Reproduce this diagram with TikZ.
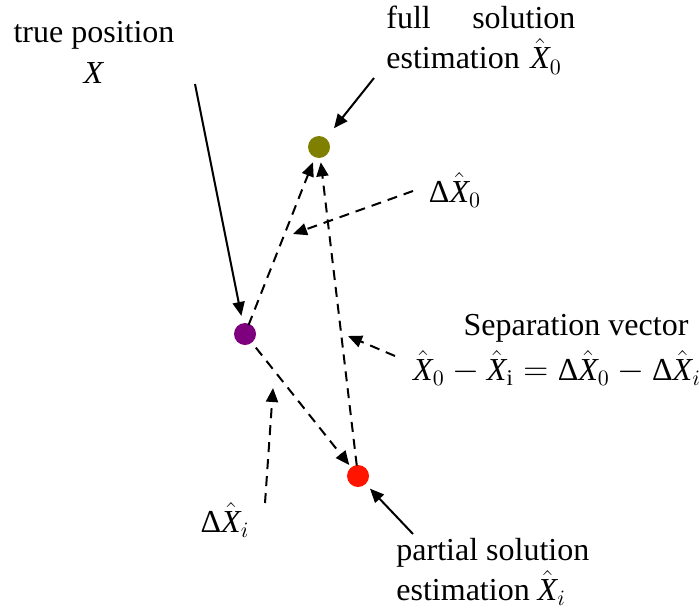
\documentclass[tikz,border=0pt]{standalone}
\usepackage{fontspec}
\setmainfont{Liberation Serif}
\usetikzlibrary{arrows.meta,positioning}
\definecolor{truecol}{HTML}{7F007F}
\definecolor{fullcol}{HTML}{808000}
\definecolor{partcol}{HTML}{FF1400}
\newcommand{\Xh}{\hat{\textit{X}}}
\newcommand{\Dl}{\textup{Δ}}
\begin{document}
\begin{tikzpicture}[x=0.5pt, y=-0.5pt, font=\fontsize{16}{20}\selectfont,
    dot/.style={circle, inner sep=0pt, minimum size=11pt},
    ptr/.style={-{Triangle[length=7pt,width=6pt]}, line width=1pt},
    dptr/.style={ptr, dash pattern=on 5pt off 3.5pt},
    lbl/.style={inner sep=0pt, align=left}]
    \useasboundingbox (0,0) rectangle (699,615);
    % the three points
    \node (xt) [dot, fill=truecol] at (245,334) {};
    \node (x0) [dot, fill=fullcol] at (319,147) {};
    \node (xi) [dot, fill=partcol] at (358,476) {};
    % labels
    \node (true) at (94,35) {true position};
    \node (truex) [below of=true, node distance=19pt] {\textit{X}};
    \node (full) [lbl, anchor=north west, text width=94.5pt] at (386,6) {full\hfill solution\\estimation $\Xh_0$};
    \node (part) [lbl, anchor=north west] at (396,538) {partial solution\\estimation $\Xh_i$};
    \node (d0) at (455,190) {$\Dl\Xh_0$};
    \node (di) at (225,520) {$\Dl\Xh_i$};
    \node (sep) at (576,328) {Separation vector};
    \node (sepeq) [below of=sep, node distance=20pt, xshift=-9.5pt] {$\Xh_0-\Xh_{\mathrm{i}}=\Dl\Xh_0-\Dl\Xh_i$};
    % pointer ends
    \coordinate (truetail) at (195,84);
    \coordinate (fulltail) at (374,78);
    \coordinate (parttail) at (413,534);
    \coordinate (d0tail) at (413,191);
    \coordinate (d0tip) at (293,234);
    \coordinate (septail) at (395,356);
    \coordinate (septip) at (348,336);
    \coordinate (ditail) at (265,503);
    \coordinate (ditip) at (273,388);
    % solid pointers
    \draw[ptr, shorten >=3.5pt] (truetail) -- (xt);
    \draw[ptr, shorten >=6.3pt] (fulltail) -- (x0);
    \draw[ptr, shorten >=3pt] (parttail) -- (xi);
    % vectors between the points
    \draw[dptr, shorten <=-1pt, shorten >=2.5pt] (xt) -- (x0);
    \draw[dptr, shorten <=3pt, shorten >=1.3pt] (xt) -- (xi);
    \draw[dptr, shorten <=-0.5pt, shorten >=2pt] (xi) -- (x0);
    % dashed pointers
    \draw[dptr] (d0tail) -- (d0tip);
    \draw[dptr] (septail) -- (septip);
    \draw[dptr] (ditail) -- (ditip);
\end{tikzpicture}
\end{document}
